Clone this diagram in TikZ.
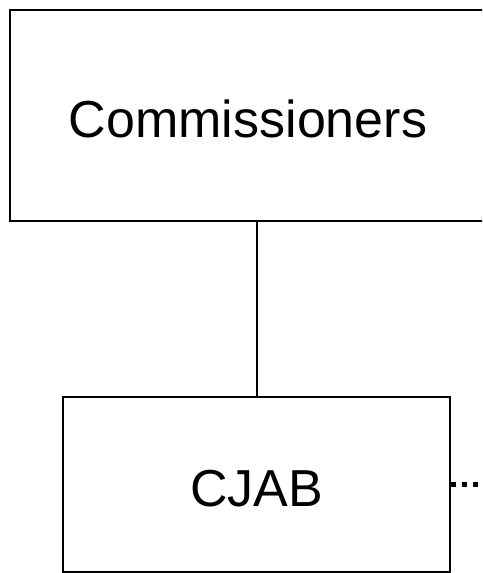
\documentclass[tikz,border=0pt]{standalone}
\usepackage{fontspec}
\setmainfont{Liberation Sans}
\begin{document}
\begin{tikzpicture}[x=1pt,y=1pt,
  orgbox/.style={draw=black, line width=2pt, inner sep=0pt, text height=44pt, text depth=0pt, font=\fontsize{52}{60}\selectfont},
  link/.style={draw=black, line width=2pt},
  dotlink/.style={draw=black, line width=5pt, dash pattern=on 5pt off 6pt}]
\useasboundingbox (0,0) rectangle (482,-573);
\clip (0,0) rectangle (482,-573);
\node[orgbox, minimum width=476, minimum height=211] (comm) at (248,-115.5) {Commissioners};
\node[orgbox, minimum width=387, minimum height=175] (cjab) at (256.5,-484.5) {CJAB};
\coordinate (dotend) at (484,-484.5);
\draw[link] (comm.south -| cjab.north) -- (cjab.north);
\draw[dotlink] (cjab.east) -- (dotend);
\end{tikzpicture}
\end{document}
